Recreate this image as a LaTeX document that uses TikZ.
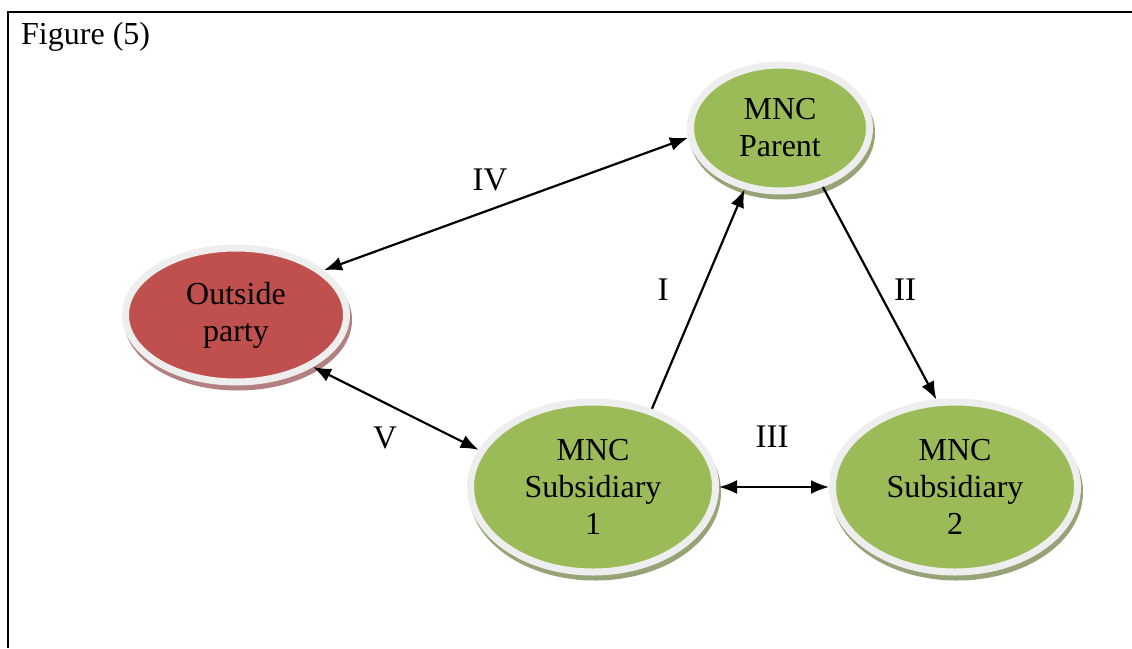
\documentclass[tikz,border=0pt]{standalone}
\usepackage{fontspec}
\setmainfont{Liberation Serif}
\usetikzlibrary{shapes.geometric,arrows.meta}
\definecolor{bubG}{RGB}{155,187,89}
\definecolor{bubR}{RGB}{192,80,77}
\definecolor{shG}{RGB}{150,163,118}
\definecolor{shR}{RGB}{178,128,128}
\definecolor{rim}{RGB}{238,238,238}
\begin{document}
\begin{tikzpicture}[x=1pt,y=-1pt,
  bubble/.style={ellipse, inner sep=0pt, draw=rim, line width=7pt, align=center,
    font=\fontsize{32}{37}\selectfont,
    preaction={draw=#1, fill=#1, line width=7pt, transform canvas={shift={(2pt,-5pt)}}}},
  lbl/.style={inner sep=0pt, font=\fontsize{33}{36}\selectfont},
  conn/.style={line width=2.2pt, {Latex[length=18pt,width=14pt]}-{Latex[length=18pt,width=14pt]}},
  oneway/.style={line width=2.2pt, -{Latex[length=18pt,width=14pt]}}]
\useasboundingbox (0,0) rectangle (1132,648);
\draw[line width=2pt] (1132,12) -- (8,12) -- (8,648);
\node[inner sep=0pt, anchor=west, font=\fontsize{32}{36}\selectfont] (fig) at (21,37) {Figure (5)};

\node[bubble=shG, fill=bubG, minimum width=179pt, minimum height=126pt] (par) at (780,128) {MNC\\Parent};
\node[bubble=shR, fill=bubR, minimum width=221pt, minimum height=134pt] (out) at (236,315) {Outside\\party};
\node[bubble=shG, fill=bubG, minimum width=245pt, minimum height=170pt] (s1) at (593,487) {MNC\\Subsidiary\\1};
\node[bubble=shG, fill=bubG, minimum width=245pt, minimum height=170pt] (s2) at (955,487) {MNC\\Subsidiary\\2};

\draw[conn] (out.27) -- (par.186);
\draw[conn] (out.-34) -- (s1.162);
\draw[oneway] (s1.53) -- (par.240);
\draw[oneway] (par.306) -- (s2.102);
\draw[conn] (s1.0) -- (s2.180);

\node[lbl] (l4) at (490,180) {IV};
\node[lbl] (l1) at (663,290) {I};
\node[lbl] (l2) at (905,290) {II};
\node[lbl] (l3) at (772,437) {III};
\node[lbl] (l5) at (385,438) {V};
\end{tikzpicture}
\end{document}
